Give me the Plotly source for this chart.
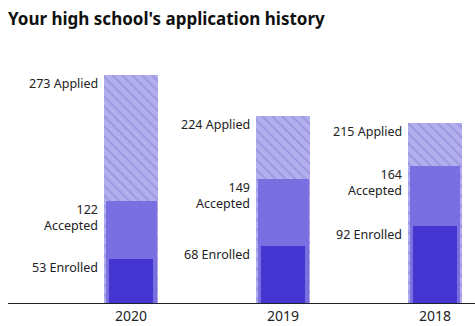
import plotly.graph_objects as go

years = ["2020", "2019", "2018"]
applied = [273, 224, 215]
accepted = [122, 149, 164]
enrolled = [53, 68, 92]

xpos = list(range(len(years)))

W_APP, W_ACC, W_ENR = 0.36, 0.335, 0.29
FONT = "Noto Sans"
TXT = "#222222"

fig = go.Figure()
fig.add_trace(go.Bar(
    x=xpos, y=applied, width=W_APP, name="Applied",
    marker=dict(color="#b3afee", line=dict(width=0),
                pattern=dict(shape="\\", bgcolor="#b3afee", fgcolor="#7f7ad0",
                             size=7, solidity=0.25)),
    hoverinfo="skip"))
fig.add_trace(go.Bar(
    x=xpos, y=accepted, width=W_ACC, name="Accepted",
    marker=dict(color="#7a6fe0", line=dict(width=0)), hoverinfo="skip"))
fig.add_trace(go.Bar(
    x=xpos, y=enrolled, width=W_ENR, name="Enrolled",
    marker=dict(color="#4434d0", line=dict(width=0)), hoverinfo="skip"))

annotations = []
for i in xpos:
    left = i - W_APP / 2
    annotations.append(dict(x=left, y=applied[i], text=f"{applied[i]} Applied",
                            xanchor="right", yanchor="top", xshift=-4, yshift=2,
                            showarrow=False, align="right"))
    annotations.append(dict(x=left, y=accepted[i], text=f"{accepted[i]}<br>Accepted",
                            xanchor="right", yanchor="top", xshift=-4, yshift=2,
                            showarrow=False, align="right"))
    annotations.append(dict(x=left, y=enrolled[i], text=f"{enrolled[i]} Enrolled",
                            xanchor="right", yanchor="top", xshift=-4, yshift=2,
                            showarrow=False, align="right"))

fig.update_layout(
    width=475, height=326,
    margin=dict(l=8, r=0, t=40, b=23),
    barmode="overlay",
    bargap=0,
    showlegend=False,
    plot_bgcolor="white", paper_bgcolor="white",
    font=dict(family=FONT, size=12.5, color=TXT),
    title=dict(text="<b>Your high school's application history</b>",
               x=8 / 475, xanchor="left", y=1 - 19 / 326, yanchor="middle",
               font=dict(family=FONT, size=17, color="#111111")),
    annotations=annotations,
    xaxis=dict(range=[-0.81, 2.263], tickvals=xpos, ticktext=years,
               showgrid=False, zeroline=False, showline=True, linecolor="#222222",
               linewidth=1, ticks="", tickfont=dict(size=14, color=TXT)),
    yaxis=dict(range=[0, 315], visible=False, showgrid=False, zeroline=False),
)

fig.write_html("out.html")
